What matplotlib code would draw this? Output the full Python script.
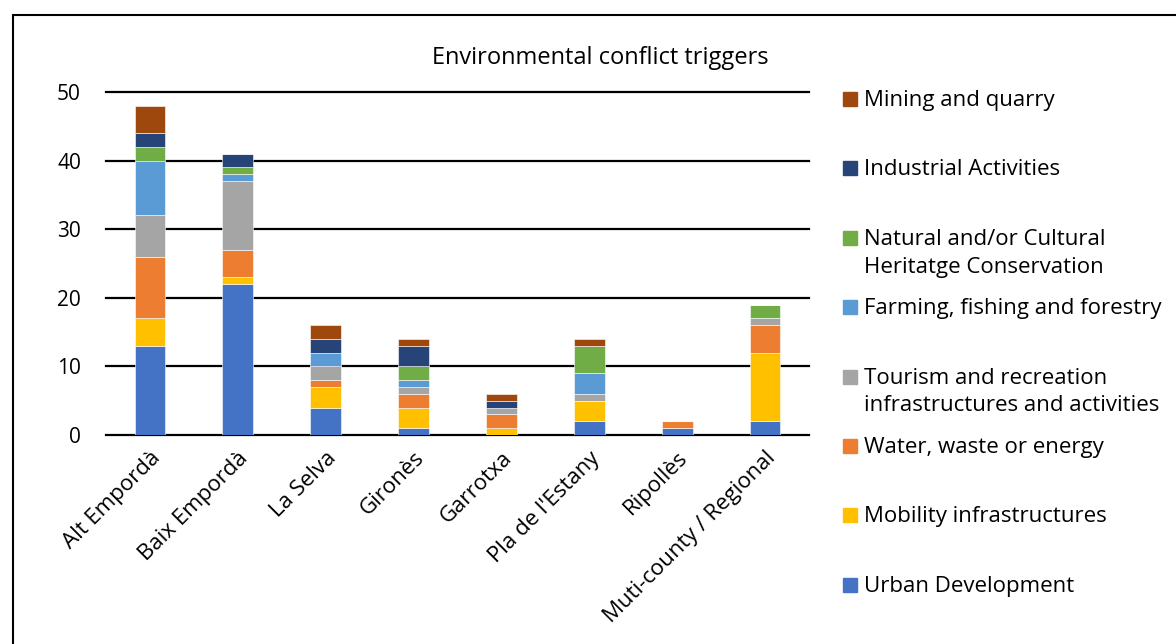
import numpy as np
import matplotlib.pyplot as plt
from matplotlib.patches import Rectangle

plt.rcParams['font.family'] = ['Open Sans', 'DejaVu Sans']

counties = ['Alt Empordà', 'Baix Empordà', 'La Selva', 'Gironès', 'Garrotxa',
            "Pla de l'Estany", 'Ripollès', 'Muti-county / Regional']

urban      = [13, 22, 4, 1, 0, 2, 1, 2]
mobility   = [4, 1, 3, 3, 1, 3, 0, 10]
water      = [9, 4, 1, 2, 2, 0, 1, 4]
tourism    = [6, 10, 2, 1, 1, 1, 0, 1]
farming    = [8, 1, 2, 1, 0, 3, 0, 0]
natural    = [2, 1, 0, 2, 0, 4, 0, 2]
industrial = [2, 2, 2, 3, 1, 0, 0, 0]
mining     = [4, 0, 2, 1, 1, 1, 0, 0]

series = [
    ('Urban Development', urban, '#4472C4'),
    ('Mobility infrastructures', mobility, '#FFC000'),
    ('Water, waste or energy', water, '#ED7D31'),
    ('Tourism and recreation\ninfrastructures and activities', tourism, '#A5A5A5'),
    ('Farming, fishing and forestry', farming, '#5B9BD5'),
    ('Natural and/or Cultural\nHeritatge Conservation', natural, '#70AD47'),
    ('Industrial Activities', industrial, '#264478'),
    ('Mining and quarry', mining, '#9E480E'),
]

W, H = 1176, 644
fig = plt.figure(figsize=(W / 100, H / 100), dpi=100)
ax = fig.add_axes([106 / W, 1 - 435 / H, 703 / W, 343 / H])

x = np.arange(len(counties))
bottom = np.zeros(len(counties))
for name, vals, color in series:
    vals = np.array(vals, dtype=float)
    ax.bar(x, vals, bottom=bottom, width=0.35, color=color,
           edgecolor='white', linewidth=0.4)
    bottom += vals

ax.set_xlim(-0.5, len(counties) - 0.5)
ax.set_ylim(0, 50)
ax.set_yticks(range(0, 51, 10))
ax.set_axisbelow(True)
ax.yaxis.grid(True, color='black', linewidth=1.6)
for gl in ax.get_ygridlines():
    gl.set_clip_on(False)
for s in ax.spines.values():
    s.set_visible(False)
ax.tick_params(length=0, labelsize=15, pad=18)
ax.tick_params(axis='x', labelsize=16, pad=9)
ax.set_xticks(x)
ax.set_xticklabels(counties, rotation=45, ha='right', va='top',
                   rotation_mode='anchor')

fig.text(600 / W, 1 - 58 / H, 'Environmental conflict triggers', fontsize=17,
         ha='center', va='center')

# legend, drawn top to bottom in reverse stacking order
for i, (name, vals, color) in enumerate(reversed(series)):
    yc = 99 + i * 69.4
    fig.add_artist(Rectangle((843 / W, 1 - (yc + 7) / H), 14 / W, 14 / H,
                             color=color, transform=fig.transFigure))
    fig.text(864 / W, 1 - (yc - 9) / H, name, fontsize=16, ha='left',
             va='top', linespacing=1.42)

# outer frame
fig.add_artist(Rectangle((13 / W, -0.1), 1.2, 1.1 - 15 / H, fill=False,
                         edgecolor='black', linewidth=1.5,
                         transform=fig.transFigure))

fig.savefig('out.png', dpi=100)
